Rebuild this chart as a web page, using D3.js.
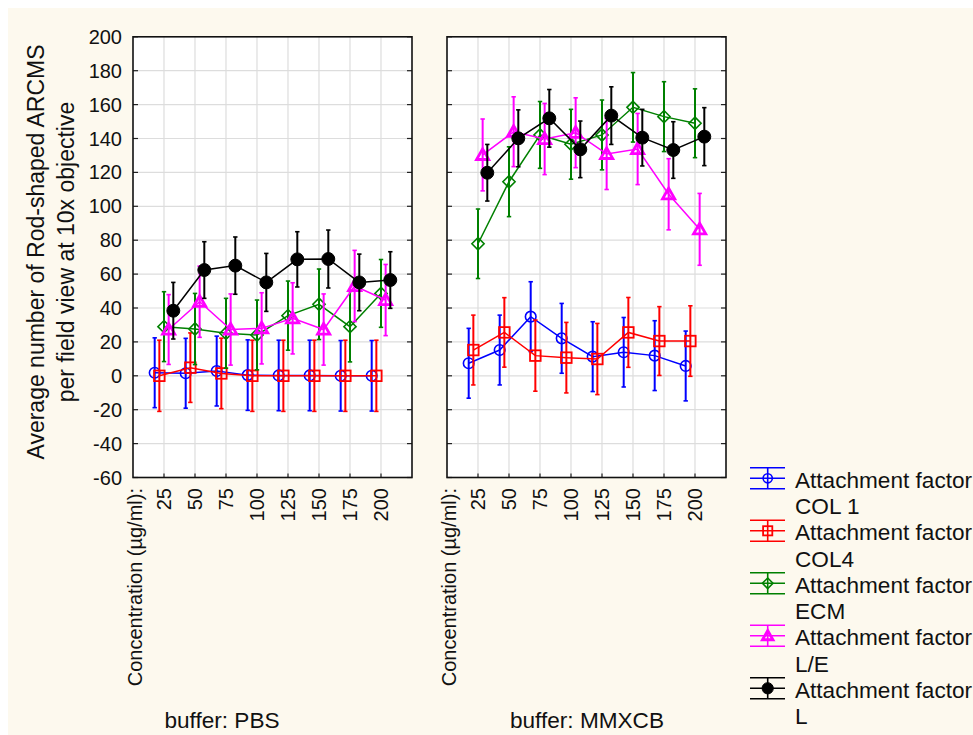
<!DOCTYPE html>
<html>
<head>
<meta charset="utf-8">
<script src="https://cdn.jsdelivr.net/npm/d3@7/dist/d3.min.js"></script>
<style>
  html, body { margin: 0; padding: 0; background: #ffffff; }
  svg { display: block; font-family: Arial, "Liberation Sans", sans-serif; }
</style>
</head>
<body>
<svg id="chart" width="973" height="735"></svg>
<script>
// Concentrations (µg/ml) shown along each panel's x axis
const concentrations = ["25", "50", "75", "100", "125", "150", "175", "200"];
const yTicks = [-60, -40, -20, 0, 20, 40, 60, 80, 100, 120, 140, 160, 180, 200];

const seriesNames = ["COL 1", "COL4", "ECM", "L/E", "L"];
const seriesColors = ["#0000ff", "#ff0000", "#008000", "#ff00ff", "#000000"];
const seriesMarkers = ["circle", "square", "diamond", "triangle", "dot"];

// buffer: PBS — means
const pbsCol1 = [1.8, 1.5, 2.8, 0.4, 0.2, 0.2, 0.0, 0.0];
const pbsCol4 = [0.0, 4.8, 1.4, 0.0, 0.0, 0.0, 0.0, 0.0];
const pbsEcm  = [29.0, 27.6, 25.1, 24.1, 35.5, 42.2, 29.0, 48.6];
const pbsLE   = [27.3, 43.7, 27.3, 28.0, 33.9, 27.3, 53.0, 44.7];
const pbsL    = [38.4, 62.4, 65.0, 55.1, 68.7, 68.9, 55.1, 56.5];
// buffer: PBS — error half-widths
const pbsCol1Err = [20.6, 20.6, 20.6, 20.8, 20.8, 20.8, 20.8, 20.8];
const pbsCol4Err = [21.0, 20.5, 20.8, 21.0, 21.0, 21.0, 21.0, 21.0];
const pbsEcmErr  = [20.6, 21.0, 20.6, 20.6, 20.4, 20.8, 20.8, 20.0];
const pbsLEErr   = [20.6, 21.0, 21.0, 21.0, 21.0, 21.0, 21.0, 21.0];
const pbsLErr    = [16.7, 16.7, 16.9, 17.1, 16.3, 17.1, 16.7, 16.7];

// buffer: MMXCB — means
const mmxCol1 = [7.4, 15.2, 34.9, 22.1, 11.3, 13.9, 11.9, 5.8];
const mmxCol4 = [15.2, 25.6, 11.9, 10.7, 9.9, 25.6, 20.5, 20.5];
const mmxEcm  = [77.9, 114.5, 142.1, 136.6, 142.1, 158.4, 152.9, 149.0];
const mmxLE   = [130.3, 144.0, 139.7, 143.4, 130.9, 133.8, 107.1, 86.4];
const mmxL    = [119.8, 140.1, 151.9, 133.6, 153.5, 140.5, 133.2, 141.1];
// buffer: MMXCB — error half-widths
const mmxCol1Err = [20.6, 20.6, 20.6, 20.6, 20.6, 20.5, 20.6, 20.6];
const mmxCol4Err = [20.6, 20.5, 21.0, 20.8, 21.0, 20.6, 20.3, 20.8];
const mmxEcmErr  = [20.5, 20.6, 19.7, 20.6, 20.6, 20.5, 20.6, 20.3];
const mmxLEErr   = [21.2, 20.6, 21.0, 20.6, 21.0, 21.0, 21.0, 21.2];
const mmxLErr    = [16.7, 16.8, 17.0, 16.7, 17.0, 16.7, 16.7, 17.1];

const panels = [
  { title: "buffer: PBS", left: 133, titleX: 222,
    means: [pbsCol1, pbsCol4, pbsEcm, pbsLE, pbsL],
    errs: [pbsCol1Err, pbsCol4Err, pbsEcmErr, pbsLEErr, pbsLErr] },
  { title: "buffer: MMXCB", left: 447, titleX: 587,
    means: [mmxCol1, mmxCol4, mmxEcm, mmxLE, mmxL],
    errs: [mmxCol1Err, mmxCol4Err, mmxEcmErr, mmxLEErr, mmxLErr] }
];

const svg = d3.select("#chart");
const FONT = 20;        // tick labels
const FONT_BIG = 22.6;  // panel titles and legend
const FONT_TITLE = 23;  // y axis title
const panelW = 279, plotTop = 36.8, plotBottom = 477.5;

// page background
svg.append("rect").attr("x", 8).attr("y", 8).attr("width", 965).attr("height", 727)
  .attr("fill", "#fdf9ee");

const y = d3.scaleLinear().domain([-60, 200]).range([plotBottom, plotTop]);

function drawMarker(g, type, color, cx, cy, size) {
  if (type === "circle") {
    g.append("circle").attr("cx", cx).attr("cy", cy).attr("r", size)
      .attr("fill", "none").attr("stroke", color).attr("stroke-width", 1.6);
  } else if (type === "square") {
    g.append("rect").attr("x", cx - size).attr("y", cy - size)
      .attr("width", size * 2).attr("height", size * 2)
      .attr("fill", "none").attr("stroke", color).attr("stroke-width", 1.8);
  } else if (type === "diamond") {
    const s = size * 1.15;
    g.append("path").attr("d", `M${cx},${cy - s}L${cx + s},${cy}L${cx},${cy + s}L${cx - s},${cy}Z`)
      .attr("fill", "none").attr("stroke", color).attr("stroke-width", 1.6);
  } else if (type === "triangle") {
    const s = size * 1.15;
    g.append("path").attr("d", `M${cx},${cy - s}L${cx + s},${cy + s * 0.75}L${cx - s},${cy + s * 0.75}Z`)
      .attr("fill", "none").attr("stroke", color).attr("stroke-width", 2.8)
      .attr("stroke-linejoin", "miter");
  } else {
    g.append("circle").attr("cx", cx).attr("cy", cy).attr("r", size * 1.22)
      .attr("fill", color).attr("stroke", color).attr("stroke-width", 1);
  }
}

panels.forEach(p => {
  const x = d3.scaleLinear().domain([0, 9]).range([p.left, p.left + panelW]);
  const g = svg.append("g");

  g.append("rect").attr("x", p.left).attr("y", plotTop).attr("width", panelW)
    .attr("height", plotBottom - plotTop).attr("fill", "#ffffff");

  // grid
  g.append("g").selectAll("line").data(yTicks.slice(1, -1)).join("line")
    .attr("x1", p.left).attr("x2", p.left + panelW)
    .attr("y1", d => y(d)).attr("y2", d => y(d))
    .attr("stroke", "#dddddd").attr("stroke-width", 1.2);
  g.append("g").selectAll("line").data(concentrations).join("line")
    .attr("x1", (d, i) => x(i + 1)).attr("x2", (d, i) => x(i + 1))
    .attr("y1", plotTop).attr("y2", plotBottom)
    .attr("stroke", "#dddddd").attr("stroke-width", 1.2);

  // inward ticks on both sides and bottom
  g.append("g").selectAll("line").data(yTicks).join("line")
    .attr("x1", p.left).attr("x2", p.left + 5)
    .attr("y1", d => y(d)).attr("y2", d => y(d)).attr("stroke", "#222").attr("stroke-width", 1.2);
  g.append("g").selectAll("line").data(yTicks).join("line")
    .attr("x1", p.left + panelW - 5).attr("x2", p.left + panelW)
    .attr("y1", d => y(d)).attr("y2", d => y(d)).attr("stroke", "#222").attr("stroke-width", 1.2);
  g.append("g").selectAll("line").data(concentrations).join("line")
    .attr("x1", (d, i) => x(i + 1)).attr("x2", (d, i) => x(i + 1))
    .attr("y1", plotBottom - 4).attr("y2", plotBottom).attr("stroke", "#222").attr("stroke-width", 1.2);

  // series: lines, error bars, markers
  p.means.forEach((vals, s) => {
    const off = 0.15 * (s - 2);
    const color = seriesColors[s];
    const pts = vals.map((v, i) => ({ cx: x(i + 1 + off), v, e: p.errs[s][i] }));
    const sg = g.append("g");
    sg.append("path")
      .attr("d", d3.line().x(d => d.cx).y(d => y(d.v))(pts))
      .attr("fill", "none").attr("stroke", color).attr("stroke-width", 1.5);
    pts.forEach(d => {
      sg.append("line").attr("x1", d.cx).attr("x2", d.cx)
        .attr("y1", y(d.v - d.e)).attr("y2", y(d.v + d.e))
        .attr("stroke", color).attr("stroke-width", 2);
      [d.v - d.e, d.v + d.e].forEach(t => {
        sg.append("line").attr("x1", d.cx - 2.2).attr("x2", d.cx + 2.2)
          .attr("y1", y(t)).attr("y2", y(t)).attr("stroke", color).attr("stroke-width", 1.6);
      });
    });
    pts.forEach(d => drawMarker(sg, seriesMarkers[s], color, d.cx, y(d.v), 5.3));
  });

  // frame
  g.append("rect").attr("x", p.left).attr("y", plotTop).attr("width", panelW)
    .attr("height", plotBottom - plotTop).attr("fill", "none")
    .attr("stroke", "#111").attr("stroke-width", 1.6);

  // x tick labels (rotated)
  g.append("g").selectAll("text").data(concentrations).join("text")
    .attr("transform", (d, i) => `translate(${x(i + 1)},${plotBottom + 10.5}) rotate(-90)`)
    .attr("dy", "0.35em").attr("text-anchor", "end")
    .attr("font-size", FONT).attr("fill", "#111").text(d => d);
  g.append("text")
    .attr("transform", `translate(${x(0) + 9},${plotBottom + 10.5}) rotate(-90)`)
    .attr("text-anchor", "end").attr("font-size", FONT).attr("fill", "#111")
    .text("Concentration (µg/ml):");

  g.append("text").attr("x", p.titleX).attr("y", 728).attr("text-anchor", "middle")
    .attr("font-size", FONT_BIG).attr("fill", "#111").text(p.title);
});

// y axis labels on the left panel
svg.append("g").selectAll("text").data(yTicks).join("text")
  .attr("x", 122).attr("y", d => y(d)).attr("dy", "0.35em")
  .attr("text-anchor", "end").attr("font-size", FONT).attr("fill", "#111")
  .text(d => d);

// y axis title (two lines)
const yt = svg.append("text").attr("transform", "translate(44,252) rotate(-90)")
  .attr("text-anchor", "middle").attr("font-size", FONT_TITLE).attr("fill", "#111");
yt.append("tspan").attr("x", 0).attr("y", 0).text("Average number of Rod-shaped ARCMS");
yt.append("tspan").attr("x", 0).attr("y", 30).text("per field view at 10x objective");

// legend
const lg = svg.append("g");
seriesNames.forEach((name, s) => {
  const cy = 478.3 + s * 52.5;
  const color = seriesColors[s];
  [cy - 10.5, cy, cy + 10.5].forEach(ly => {
    lg.append("line").attr("x1", 750).attr("x2", 785).attr("y1", ly).attr("y2", ly)
      .attr("stroke", color).attr("stroke-width", 1.6);
  });
  lg.append("line").attr("x1", 767.7).attr("x2", 767.7).attr("y1", cy - 10.5).attr("y2", cy + 10.5)
    .attr("stroke", color).attr("stroke-width", 1.6);
  drawMarker(lg, seriesMarkers[s], color, 767.7, cy, 4.6);
  const t = lg.append("text").attr("x", 795).attr("y", cy + 9.5)
    .attr("font-size", FONT_BIG).attr("fill", "#111");
  t.append("tspan").attr("x", 795).text("Attachment factor");
  t.append("tspan").attr("x", 795).attr("dy", 26.3).text(name);
});
</script>
</body>
</html>
